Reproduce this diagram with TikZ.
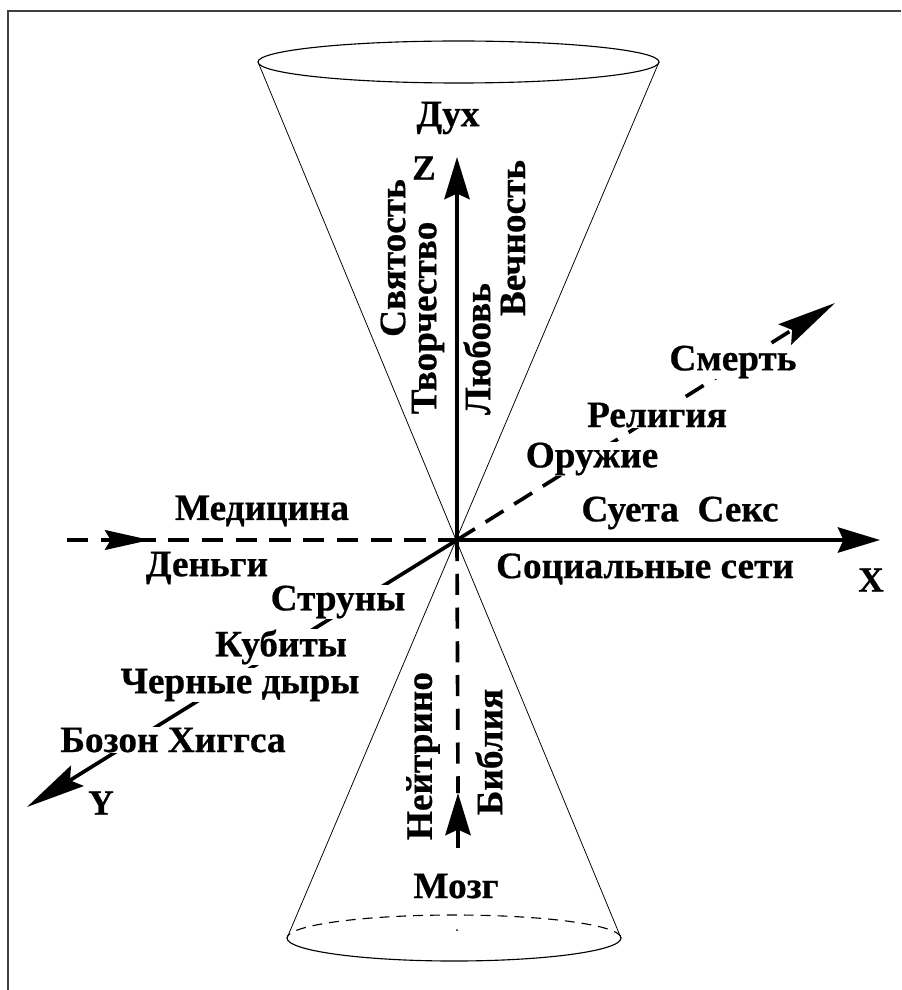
\documentclass[tikz,border=0pt]{standalone}
\usepackage{fontspec}
\setmainfont{Liberation Serif}
\newfontfamily\lblfont{Liberation Serif Bold}[FakeBold=0.6]
\usetikzlibrary{arrows.meta,positioning}

\begin{document}
\begin{tikzpicture}[x=0.025cm,y=0.025cm,>=Stealth]
\tikzset{
  frm/.style={line width=1.1pt, black!75},
  cone/.style={line width=0.55pt},
  rim/.style={line width=0.8pt},
  ax/.style={line width=2.6pt},
  dax/.style={ax, dash pattern=on 15pt off 9pt},
  lbl/.style={font=\lblfont\fontsize{26.5}{31}\selectfont, inner sep=0.5pt},
  cut/.style={lbl, fill=white},
  axn/.style={font=\lblfont\fontsize{25}{30}\selectfont, inner sep=0pt},
  bigtip/.style={-{Stealth[length=30pt,width=18pt,inset=4pt]}},
  longtip/.style={-{Stealth[length=42pt,width=17pt,inset=6pt]}}
}
\useasboundingbox (0,0) rectangle (901,-990);
% ---------- frame ----------
\draw[frm] (8,-990) -- (8,-11) -- (901,-11);
% ---------- cones ----------
\draw[cone] (258,-62) -- (621,-938);
\draw[cone] (659,-62) -- (287,-938);
\draw[rim] (458.5,-62) ellipse [x radius=200.5, y radius=21];
\draw[rim] (621,-938) arc[start angle=0, end angle=-180, x radius=167, y radius=23];
\draw[rim, dash pattern=on 7pt off 5pt] (621,-938) arc[start angle=0, end angle=180, x radius=167, y radius=23];
\fill (457,-930) circle (1);
% ---------- axes ----------
\coordinate (O) at (457,-540);
\coordinate (Ztip) at (457,-157);
\coordinate (Xtip) at (880,-540);
\coordinate (Lbeg) at (67,-540);
\coordinate (Lhd0) at (104,-540);
\coordinate (Lhd1) at (150,-540);
\coordinate (Btip) at (458,-793);
\coordinate (Bbeg) at (458,-848);
\coordinate (Utip) at (835,-303);
\coordinate (Ytip) at (27,-807);
\draw[ax,bigtip] (O) -- (Ztip);
\draw[ax,bigtip] (O) -- (Xtip);
\draw[dax] (Lbeg) -- (O);
\draw[ax,-{Stealth[length=32pt,width=14pt,inset=4pt]}] (Lhd0) -- (Lhd1);
\draw[dax] (O) -- (Btip);
\draw[ax,bigtip] (Bbeg) -- (Btip);
\draw[dax,longtip] (O) -- (Utip);
\draw[ax,longtip] (O) -- (Ytip);
% ---------- labels ----------
\node[lbl] (duh) at (448,-118) {Дух};
\node[axn] (zlab) at (424,-168) {Z};
\node[lbl,rotate=90] (svyat) at (393,-258) {Святость};
\node[lbl,rotate=90] (tvor) at (428,-318) {Творчество};
\node[lbl,rotate=90] (lub) at (477,-349) {Любовь};
\node[lbl,rotate=90] (vech) at (513,-238) {Вечность};
\node[cut] (smert) at (733,-362) {Смерть};
\node[cut] (relig) at (657,-415) {Религия};
\node[cut] (oruzh) at (592,-459) {Оружие};
\node[lbl] (sueta) at (680,-513) {Суета~~Секс};
\node[lbl] (medic) at (262,-511) {Медицина};
\node[lbl] (dengi) at (207,-568) {Деньги};
\node[lbl] (socs) at (645,-569) {Социальные сети};
\node[axn] (xlab) at (871,-580) {X};
\node[cut] (strun) at (338,-602) {Струны};
\node[cut] (kubit) at (281,-647) {Кубиты};
\node[cut] (chern) at (240,-685) {Черные дыры};
\node[cut] (bozon) at (173,-740) {Бозон Хиггса};
\node[axn] (ylab) at (101,-803) {Y};
\node[lbl,rotate=90] (neitr) at (423,-756) {Нейтрино};
\node[lbl,rotate=90] (bibl) at (489,-752) {Библия};
\node[lbl] (mozg) at (456,-886) {Мозг};
\end{tikzpicture}
\end{document}
